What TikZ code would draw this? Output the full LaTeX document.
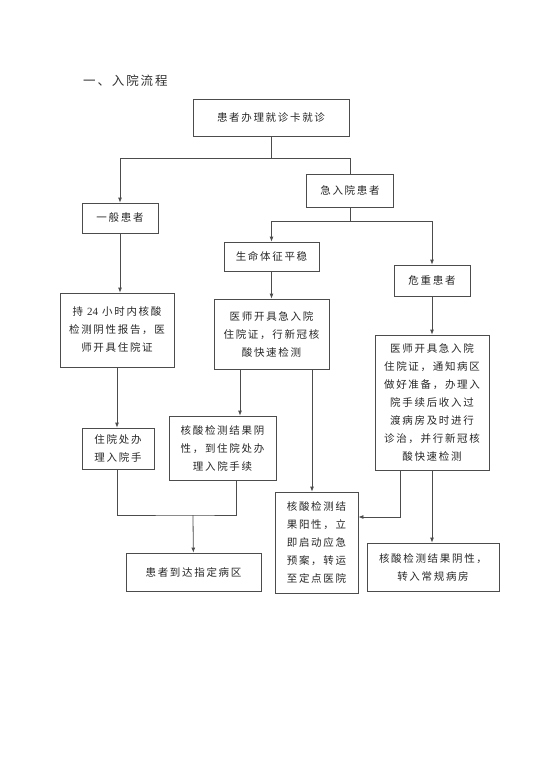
\documentclass[tikz,border=0pt]{standalone}
\usepackage{fontspec}
\setmainfont{Noto Sans CJK SC}
\newfontfamily\boxfont[LetterSpace=16]{Noto Sans CJK SC}
\newfontfamily\titlefont[LetterSpace=15]{Noto Sans CJK SC}
\newfontfamily\digitfont{Liberation Serif}
\usetikzlibrary{arrows.meta}
\usetikzlibrary{positioning}
\usetikzlibrary{calc}

\begin{document}
\begin{tikzpicture}[x=1pt,y=-1pt,>={Latex[length=5pt,width=4pt]},
    box/.style={draw=black!70,line width=0.8pt,inner sep=0pt,align=center,
      text=black!85,font=\boxfont\fontsize{10.5pt}{18pt}\selectfont},
    link/.style={draw=black!70,line width=0.8pt}]
      \useasboundingbox (0,0) rectangle (544,770);

      % title
      \node[anchor=west,inner sep=0pt,text=black!80,font=\titlefont\fontsize{12.5pt}{14pt}\selectfont] (title) at (83,81) {一、入院流程};

      % boxes
      \node[box,minimum width=156,minimum height=37] (start)    at (271,117.5) {患者办理就诊卡就诊};
      \node[box,minimum width=76, minimum height=30] (general)  at (120,218)   {一般患者};
      \node[box,minimum width=87, minimum height=33] (emerg)    at (350,190.5) {急入院患者};
      \node[box,minimum width=95, minimum height=29] (stable)   at (271.5,256.5) {生命体征平稳};
      \node[box,minimum width=76, minimum height=31] (critical) at (432,280.5) {危重患者};

      \node[box,minimum width=114,minimum height=74] (report)   at (117,330)   {持 {\digitfont\fontsize{11pt}{18pt}\selectfont 24} 小时内核酸\\检测阴性报告，医\\师开具住院证};
      \node[box,minimum width=115,minimum height=70] (permit)   at (271.5,334) {医师开具急入院\\住院证，行新冠核\\酸快速检测};
      \node[box,minimum width=114,minimum height=135] (transit) at (432,402.5) {医师开具急入院\\住院证，通知病区\\做好准备，办理入\\院手续后收入过\\渡病房及时进行\\诊治，并行新冠核\\酸快速检测};

      \node[box,minimum width=72, minimum height=41] (admit)    at (118,448.5) {住院处办\\理入院手};
      \node[box,minimum width=107,minimum height=64] (negative) at (222.5,448)  {核酸检测结果阴\\性，到住院处办\\理入院手续};
      \node[box,minimum width=83, minimum height=101] (positive) at (316.5,542.5) {核酸检测结\\果阳性，立\\即启动应急\\预案，转运\\至定点医院};
      \node[box,minimum width=135,minimum height=38] (ward)     at (193.5,572)  {患者到达指定病区};
      \node[box,minimum width=132,minimum height=48] (normal)   at (433,567)    {核酸检测结果阴性，\\转入常规病房};

      % branch points
      \coordinate (split1) at (271,158);
      \coordinate (split2) at (350,221);
      \coordinate (merge)  at (193,515);
      \coordinate (turn)   at (400,517);

      % connectors
      \draw[link] (start) -- (split1);
      \draw[link,->] (split1) -| (general);
      \draw[link] (split1) -| (emerg);
      \draw[link] (emerg) -- (split2);
      \draw[link,->] (split2) -| (stable);
      \draw[link,->] (split2) -| (critical);

      \draw[link,->] (general) -- (general |- report.north);
      \draw[link,->] (stable) -- (stable |- permit.north);
      \draw[link,->] (critical) -- (transit);

      \draw[link,->] (report) -- (report |- admit.north);
      \draw[link,->] ([xshift=-31.5]permit.south) -- ([xshift=-31.5]permit.south |- negative.north);
      \draw[link,->] ([xshift=40.5]permit.south) -- ([xshift=40.5]permit.south |- positive.north);

      \draw[link] (admit.south -| report) |- (merge) -| ([xshift=13.5]negative.south);
      \draw[link,->] (merge) -- (ward);

      \draw[link,->] (turn |- transit.south) -- (turn) -- (turn -| positive.east);
      \draw[link,->] (transit) -- (transit |- normal.north);
\end{tikzpicture}
\end{document}
